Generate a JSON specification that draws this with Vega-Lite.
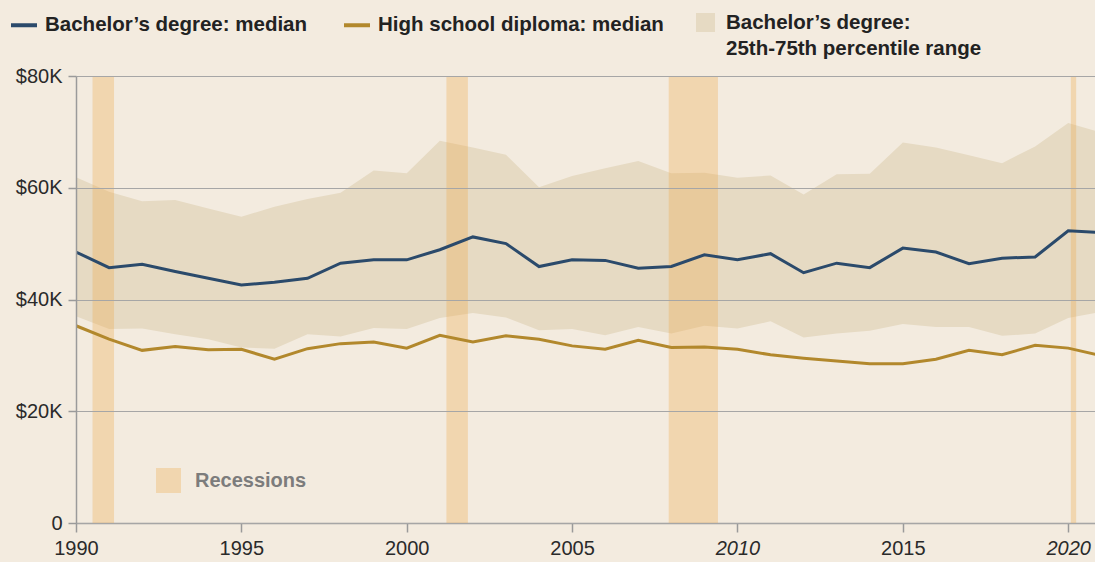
{
  "$schema": "https://vega.github.io/schema/vega-lite/v6.json",
  "width": 1019,
  "height": 447,
  "autosize": "none",
  "padding": {"left": 76, "top": 76, "right": 0, "bottom": 39},
  "background": "#f3ebdf",
  "config": {
    "view": {"stroke": null},
    "font": "Liberation Sans",
    "axis": {
      "labelFont": "Liberation Sans",
      "labelFontSize": 20,
      "labelColor": "#2a2a2a",
      "domainColor": "#9a9a9a",
      "tickColor": "#9a9a9a",
      "gridColor": "#a6a6a6",
      "domainWidth": 1.5,
      "tickWidth": 1.5,
      "title": null
    },
    "legend": {"labelFont": "Liberation Sans", "labelFontSize": 20.5, "labelFontWeight": "bold", "labelLimit": 500, "title": null}
  },
  "datasets": {
    "main": [
      {"year": 1990, "ba": 48500, "hs": 35300, "p25": 37000, "p75": 61900},
      {"year": 1991, "ba": 45700, "hs": 32900, "p25": 34700, "p75": 59300},
      {"year": 1992, "ba": 46300, "hs": 30900, "p25": 34800, "p75": 57600},
      {"year": 1993, "ba": 45000, "hs": 31600, "p25": 33800, "p75": 57800},
      {"year": 1994, "ba": 43800, "hs": 31000, "p25": 32900, "p75": 56300},
      {"year": 1995, "ba": 42600, "hs": 31100, "p25": 31400, "p75": 54800},
      {"year": 1996, "ba": 43100, "hs": 29300, "p25": 31200, "p75": 56600},
      {"year": 1997, "ba": 43800, "hs": 31200, "p25": 33800, "p75": 58000},
      {"year": 1998, "ba": 46500, "hs": 32100, "p25": 33400, "p75": 59100},
      {"year": 1999, "ba": 47100, "hs": 32400, "p25": 34900, "p75": 63100},
      {"year": 2000, "ba": 47100, "hs": 31300, "p25": 34700, "p75": 62600},
      {"year": 2001, "ba": 48900, "hs": 33600, "p25": 36700, "p75": 68400},
      {"year": 2002, "ba": 51200, "hs": 32400, "p25": 37600, "p75": 67200},
      {"year": 2003, "ba": 50000, "hs": 33500, "p25": 36800, "p75": 65900},
      {"year": 2004, "ba": 45900, "hs": 32900, "p25": 34500, "p75": 60100},
      {"year": 2005, "ba": 47100, "hs": 31700, "p25": 34700, "p75": 62100},
      {"year": 2006, "ba": 47000, "hs": 31100, "p25": 33600, "p75": 63500},
      {"year": 2007, "ba": 45600, "hs": 32700, "p25": 35100, "p75": 64800},
      {"year": 2008, "ba": 45900, "hs": 31400, "p25": 33900, "p75": 62600},
      {"year": 2009, "ba": 48000, "hs": 31500, "p25": 35300, "p75": 62700},
      {"year": 2010, "ba": 47100, "hs": 31100, "p25": 34800, "p75": 61800},
      {"year": 2011, "ba": 48200, "hs": 30100, "p25": 36100, "p75": 62200},
      {"year": 2012, "ba": 44800, "hs": 29500, "p25": 33200, "p75": 58800},
      {"year": 2013, "ba": 46500, "hs": 29000, "p25": 33900, "p75": 62400},
      {"year": 2014, "ba": 45700, "hs": 28500, "p25": 34400, "p75": 62500},
      {"year": 2015, "ba": 49200, "hs": 28500, "p25": 35600, "p75": 68100},
      {"year": 2016, "ba": 48500, "hs": 29300, "p25": 35100, "p75": 67200},
      {"year": 2017, "ba": 46400, "hs": 30900, "p25": 35100, "p75": 65800},
      {"year": 2018, "ba": 47400, "hs": 30100, "p25": 33500, "p75": 64400},
      {"year": 2019, "ba": 47600, "hs": 31800, "p25": 33900, "p75": 67400},
      {"year": 2020, "ba": 52300, "hs": 31300, "p25": 36700, "p75": 71600},
      {"year": 2021, "ba": 51950, "hs": 29950, "p25": 37800, "p75": 69900}
    ],
    "rec": [
      {"start": 1990.5, "end": 1991.15, "label": "Recessions"},
      {"start": 2001.2, "end": 2001.85, "label": "Recessions"},
      {"start": 2007.92, "end": 2009.41, "label": "Recessions"},
      {"start": 2020.08, "end": 2020.24, "label": "Recessions"}
    ]
  },
  "layer": [
    {
      "data": {"name": "main"},
      "mark": {"type": "area", "clip": true},
      "encoding": {
        "x": {
          "field": "year", "type": "quantitative",
          "scale": {"domain": [1990, 2020.81], "nice": false, "zero": false},
          "axis": {
            "values": [1990, 1995, 2000, 2005, 2010, 2015, 2020],
            "format": "d", "grid": false, "tickSize": 9, "labelPadding": 6,
            "labelFlush": false, "labelBound": false, "labelOverlap": false,
            "labelFontStyle": {"condition": {"test": "datum.value == 2010 || datum.value == 2020", "value": "italic"}, "value": "normal"},
            "title": null
          }
        },
        "y": {
          "field": "p25", "type": "quantitative",
          "scale": {"domain": [0, 80000], "nice": false},
          "axis": {
            "values": [0, 20000, 40000, 60000, 80000],
            "labelExpr": "datum.value == 0 ? '0' : '$' + (datum.value / 1000) + 'K'",
            "grid": true, "zindex": 1, "tickSize": 8, "labelPadding": 6, "title": null
          }
        },
        "y2": {"field": "p75"},
        "fill": {
          "datum": "band", "type": "nominal",
          "scale": {"range": ["#e6dac3"]},
          "legend": {
            "orient": "none", "legendX": 619, "legendY": -64,
            "symbolType": "square", "symbolSize": 361, "labelOffset": 10,
            "labelColor": "#222",
            "labelExpr": "['Bachelor’s degree:', '25th-75th percentile range']",
            "encode": {"labels": {"update": {"lineHeight": {"value": 26}}}}
          }
        }
      }
    },
    {
      "data": {"name": "rec"},
      "mark": {"type": "rect", "opacity": 0.3},
      "encoding": {
        "x": {"field": "start", "type": "quantitative", "title": null},
        "x2": {"field": "end"},
        "color": {
          "field": "label", "type": "nominal",
          "scale": {"range": ["#eda543"]},
          "legend": {
            "orient": "none", "legendX": 79, "legendY": 391,
            "symbolType": "square", "symbolSize": 625, "symbolOpacity": 0.3,
            "labelOffset": 13, "labelColor": "#7c7c7c", "labelFontSize": 20
          }
        }
      }
    },
    {
      "data": {"name": "main"},
      "transform": [{"fold": ["ba", "hs"], "as": ["key", "value"]}],
      "mark": {"type": "line", "strokeWidth": 3, "clip": true},
      "encoding": {
        "x": {"field": "year", "type": "quantitative", "title": null},
        "y": {"field": "value", "type": "quantitative", "title": null},
        "stroke": {
          "field": "key", "type": "nominal",
          "scale": {"domain": ["ba", "hs"], "range": ["#2b4a6b", "#b2882c"]},
          "legend": {
            "orient": "none", "legendX": -67, "legendY": -66, "direction": "horizontal",
            "symbolType": "stroke", "symbolSize": 676, "symbolStrokeWidth": 4,
            "labelOffset": 6, "columnPadding": 28, "labelColor": "#222",
            "labelExpr": "datum.value == 'ba' ? 'Bachelor’s degree: median' : 'High school diploma: median'"
          }
        }
      }
    }
  ]
}
